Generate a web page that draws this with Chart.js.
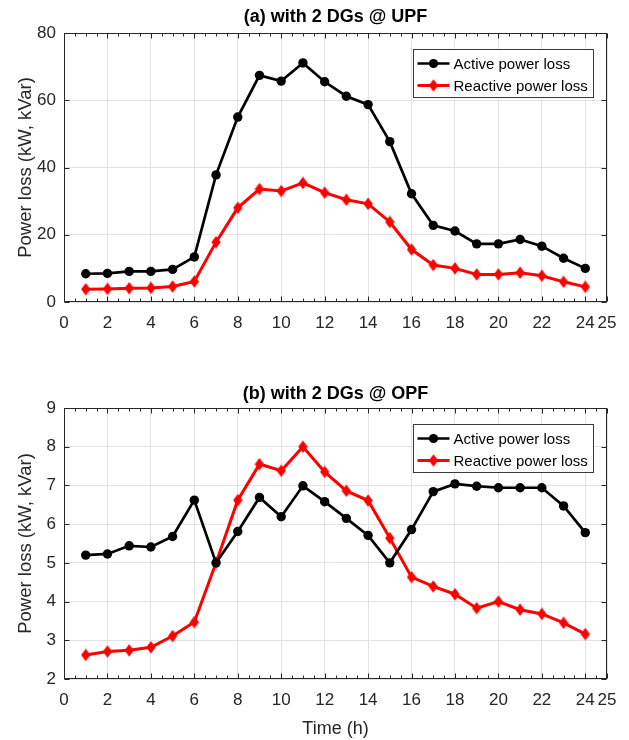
<!DOCTYPE html>
<html><head><meta charset="utf-8">
<script src="https://cdn.jsdelivr.net/npm/chart.js@4.4.1/dist/chart.umd.min.js"></script>
<style>
html,body{margin:0;padding:0;background:#fff;}
#wrap{position:relative;width:629px;height:740px;overflow:hidden;}
.c{position:absolute;left:0;width:629px;height:370px;}
</style></head><body>
<div id="wrap">
<div class="c" style="top:0"><canvas id="c1" width="629" height="370"></canvas></div>
<div class="c" style="top:370px"><canvas id="c2" width="629" height="370"></canvas></div>
</div>
<script>
// ---- data ----
const hours = [1,2,3,4,5,6,7,8,9,10,11,12,13,14,15,16,17,18,19,20,21,22,23,24];
const upfActive   = [8.4, 8.5, 9.1, 9.1, 9.7, 13.4, 37.8, 55.0, 67.4, 65.7, 71.1, 65.5, 61.2, 58.7, 47.7, 32.2, 22.8, 21.1, 17.3, 17.3, 18.6, 16.6, 13.0, 10.0];
const upfReactive = [3.8, 3.9, 4.1, 4.2, 4.6, 6.1, 17.8, 28.0, 33.6, 33.0, 35.4, 32.5, 30.4, 29.2, 23.8, 15.6, 11.0, 10.0, 8.2, 8.2, 8.7, 7.8, 6.0, 4.5];
const opfActive   = [5.20, 5.23, 5.44, 5.41, 5.68, 6.62, 5.00, 5.81, 6.69, 6.19, 6.99, 6.58, 6.15, 5.71, 5.00, 5.86, 6.84, 7.04, 6.98, 6.94, 6.94, 6.94, 6.47, 5.78];
const opfReactive = [2.62, 2.71, 2.74, 2.82, 3.11, 3.47, 5.00, 6.62, 7.55, 7.38, 8.00, 7.35, 6.86, 6.61, 5.64, 4.63, 4.39, 4.19, 3.83, 4.00, 3.79, 3.68, 3.45, 3.16];
const xTickValues = [0,2,4,6,8,10,12,14,16,18,20,22,24,25];
const upfYTicks = [0,20,40,60,80];
const opfYTicks = [2,3,4,5,6,7,8,9];
const seriesNames = ['Active power loss', 'Reactive power loss'];
const titles = ['(a) with 2 DGs @ UPF', '(b) with 2 DGs @ OPF'];
const yTitle = 'Power loss (kW, kVar)';
const xTitle = 'Time (h)';

// ---- styles ----
const AX = '#262626';
const GRID = '#e3e3e3';
const FONT = "'Liberation Sans', Arial, Helvetica, sans-serif";

function diamond(color){
  const c = document.createElement('canvas');
  c.width = 10; c.height = 13;
  const g = c.getContext('2d');
  g.fillStyle = color;
  g.beginPath();
  g.moveTo(5,0.3); g.lineTo(9.7,6.5); g.lineTo(5,12.7); g.lineTo(0.3,6.5);
  g.closePath(); g.fill();
  return c;
}
const redDiamond = diamond('#ff0000');

function pts(vals){ return hours.map((h,i)=>({x:h, y:vals[i]})); }

const framePlugin = {
  id: 'frameTicks',
  afterDatasetsDraw(chart){
    const {ctx, chartArea:a, scales:{x, y}} = chart;
    ctx.save();
    ctx.strokeStyle = AX; ctx.lineWidth = 1;
    const L = Math.round(a.left)+0.5, R = Math.round(a.right)-0.5, T = Math.round(a.top)+0.5, B = Math.round(a.bottom)-0.5;
    ctx.beginPath();
    for (let v = 0; v <= 25.001; v += 0.5) {
      const px = Math.round(x.getPixelForValue(v)) + 0.5;
      const major = xTickValues.includes(v);
      const len = major ? 5 : 3;
      ctx.moveTo(px, B); ctx.lineTo(px, B - len);
      ctx.moveTo(px, T); ctx.lineTo(px, T + len);
    }
    y.ticks.forEach(t => {
      const py = Math.round(y.getPixelForValue(t.value)) + 0.5;
      ctx.moveTo(L, py); ctx.lineTo(L + 5, py);
      ctx.moveTo(R, py); ctx.lineTo(R - 5, py);
    });
    ctx.stroke();
    ctx.strokeRect(L, T, R - L, B - T);
    ctx.restore();
  }
};

const legendPlugin = {
  id: 'boxLegend',
  afterDraw(chart){
    const {ctx, chartArea:a} = chart;
    const w = 180, h = 48;
    const bx = Math.round(a.right - 14 - w) + 0.5, by = Math.round(a.top + 15.5) + 0.5;
    ctx.save();
    ctx.fillStyle = '#fff';
    ctx.fillRect(bx, by, w, h);
    ctx.strokeStyle = '#3a3a3a'; ctx.lineWidth = 1;
    ctx.strokeRect(bx, by, w, h);
    chart.data.datasets.forEach((ds, i) => {
      const ry = by + 14 + i * 22;
      ctx.strokeStyle = ds.borderColor; ctx.lineWidth = ds.borderWidth;
      ctx.beginPath(); ctx.moveTo(bx + 4, ry); ctx.lineTo(bx + 36, ry); ctx.stroke();
      const mx = bx + 20;
      if (ds.pointStyle === 'circle') {
        ctx.fillStyle = ds.pointBackgroundColor;
        ctx.beginPath(); ctx.arc(mx, ry, 4.6, 0, Math.PI * 2); ctx.fill();
      } else {
        ctx.drawImage(ds.pointStyle, mx - ds.pointStyle.width/2, ry - ds.pointStyle.height/2);
      }
      ctx.fillStyle = '#000';
      ctx.font = '15px ' + FONT;
      ctx.textBaseline = 'middle'; ctx.textAlign = 'left';
      ctx.fillText(ds.label, bx + 40, ry + 1);
    });
    ctx.restore();
  }
};

function makeChart(id, title, aVals, rVals, yMin, yMax, yTicks, xHeight, showXTitle, titlePad){
  return new Chart(document.getElementById(id), {
    type: 'line',
    data: {
      datasets: [
        { label: seriesNames[0], data: pts(aVals), borderColor: '#000000', backgroundColor: '#000000',
          pointBackgroundColor: '#000000', pointBorderColor: '#000000', pointStyle: 'circle',
          pointRadius: 4.7, pointBorderWidth: 0, borderWidth: 2.7, tension: 0 },
        { label: seriesNames[1], data: pts(rVals), borderColor: '#ff0000', backgroundColor: '#ff0000',
          pointBackgroundColor: '#ff0000', pointBorderColor: '#ff0000', pointStyle: redDiamond,
          pointRadius: 5, pointBorderWidth: 0, borderWidth: 3, tension: 0 }
      ]
    },
    options: {
      responsive: false, animation: false, devicePixelRatio: 1,
      layout: { padding: { left: 0, right: 22, top: 0, bottom: 0 } },
      plugins: {
        legend: { display: false },
        tooltip: { enabled: false },
        title: { display: true, text: title, fullSize: false, color: '#000',
          font: { family: FONT, size: 18, weight: 'bold' }, padding: titlePad }
      },
      scales: {
        x: {
          type: 'linear', min: 0, max: 25,
          afterBuildTicks: s => { s.ticks = xTickValues.map(v => ({ value: v })); },
          afterFit: s => { s.height = xHeight; },
          grid: { color: GRID, lineWidth: 1, drawTicks: false },
          border: { display: false },
          ticks: { padding: 11.3, color: AX, autoSkip: false, maxRotation: 0,
            font: { family: FONT, size: 17 } },
          title: { display: showXTitle, text: xTitle, color: AX,
            font: { family: FONT, size: 18 }, padding: { top: 0, bottom: 0 } }
        },
        y: {
          min: yMin, max: yMax,
          afterBuildTicks: s => { s.ticks = yTicks.map(v => ({ value: v })); },
          afterFit: s => { s.width = 64; },
          grid: { color: GRID, lineWidth: 1, drawTicks: false },
          border: { display: false },
          ticks: { padding: 8, color: AX, font: { family: FONT, size: 17 } },
          title: { display: true, text: yTitle, color: AX,
            font: { family: FONT, size: 18.5 }, padding: { top: 15, bottom: 0 } }
        }
      }
    },
    plugins: [framePlugin, legendPlugin]
  });
}

makeChart('c1', titles[0], upfActive, upfReactive, 0, 80, upfYTicks, 68, false, { top: 6.7, bottom: 4.7 });
makeChart('c2', titles[1], opfActive, opfReactive, 2, 9, opfYTicks, 61, true, { top: 13.7, bottom: 2.7 });
</script>
</body></html>
